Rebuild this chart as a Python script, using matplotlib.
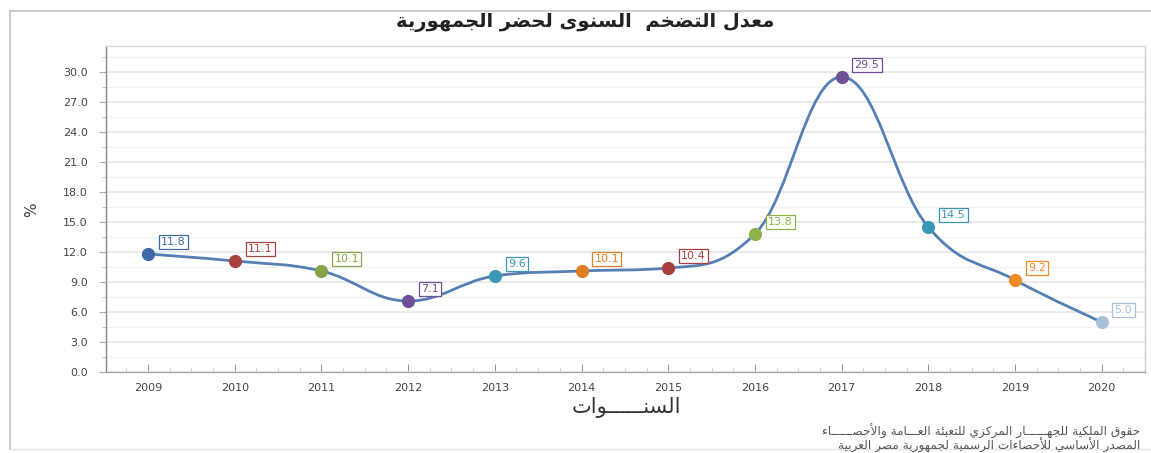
import matplotlib
matplotlib.use("Agg")
import matplotlib.pyplot as plt
from matplotlib.path import Path
from matplotlib.patches import PathPatch
from matplotlib.lines import Line2D
from matplotlib.ticker import MultipleLocator

# ---------------- data ----------------
years = [2009, 2010, 2011, 2012, 2013, 2014, 2015, 2016, 2017, 2018, 2019, 2020]
inflation = [11.8, 11.1, 10.1, 7.1, 9.6, 10.1, 10.4, 13.8, 29.5, 14.5, 9.2, 5.0]
point_colors = ["#3f6aa6", "#a9403d", "#87a548", "#6f4f98", "#3a98b6", "#e07f27",
                "#a83e3e", "#8db24a", "#6e4f98", "#3a96b8", "#f08a25", "#a9c1dd"]
title_text = "معدل التضخم  السنوى لحضر الجمهورية"
xlabel_text = "السنــــــوات"
ylabel_text = "%"
footer_lines = ["حقوق الملكية للجهــــــار المركزي للتعبئة العـــامة والأحصــــــاء",
                "المصدر الأساسي للأحصاءات الرسمية لجمهورية مصر العربية"]

# ---------------- minimal Arabic shaper ----------------
FOUR = {}
for ch, base in [('ئ', 0xFE89), ('ب', 0xFE8F), ('ت', 0xFE95), ('ث', 0xFE99), ('ج', 0xFE9D),
                 ('ح', 0xFEA1), ('خ', 0xFEA5), ('س', 0xFEB1), ('ش', 0xFEB5), ('ص', 0xFEB9),
                 ('ض', 0xFEBD), ('ط', 0xFEC1), ('ظ', 0xFEC5), ('ع', 0xFEC9), ('غ', 0xFECD),
                 ('ف', 0xFED1), ('ق', 0xFED5), ('ك', 0xFED9), ('ل', 0xFEDD), ('م', 0xFEE1),
                 ('ن', 0xFEE5), ('ه', 0xFEE9), ('ي', 0xFEF1)]:
    FOUR[ch] = base
TWO = {}
for ch, base in [('آ', 0xFE81), ('أ', 0xFE83), ('ؤ', 0xFE85), ('إ', 0xFE87), ('ا', 0xFE8D),
                 ('ة', 0xFE93), ('د', 0xFEA9), ('ذ', 0xFEAB), ('ر', 0xFEAD), ('ز', 0xFEAF),
                 ('و', 0xFEED), ('ى', 0xFEEF)]:
    TWO[ch] = base
LAMALEF = {'ا': 0xFEFB, 'أ': 0xFEF7, 'إ': 0xFEF9, 'آ': 0xFEF5}
TATWEEL = 'ـ'


def joins_next(c):
    return c in FOUR or c == TATWEEL


def is_letter(c):
    return c in FOUR or c in TWO or c == TATWEEL or c == 'ء'


def shape(text):
    out = []
    n = len(text)
    i = 0
    while i < n:
        c = text[i]
        prev = text[i - 1] if i > 0 else ' '
        conn_prev = joins_next(prev) and i > 0
        if c == 'ل' and i + 1 < n and text[i + 1] in LAMALEF:
            base = LAMALEF[text[i + 1]]
            out.append(chr(base + 1 if conn_prev else base))
            i += 2
            continue
        nxt = text[i + 1] if i + 1 < n else ' '
        conn_next = is_letter(nxt)
        if c in FOUR:
            b = FOUR[c]
            if conn_prev and conn_next:
                out.append(chr(b + 3))
            elif conn_prev:
                out.append(chr(b + 1))
            elif conn_next:
                out.append(chr(b + 2))
            else:
                out.append(chr(b))
        elif c in TWO:
            b = TWO[c]
            out.append(chr(b + 1 if conn_prev else b))
        elif c == 'ء':
            out.append(chr(0xFE80))
        else:
            out.append(c)
        i += 1
    return ''.join(reversed(out))


AR_FONT = ['DejaVu Sans']

# ---------------- figure ----------------
W, H = 1151, 453
fig = plt.figure(figsize=(W / 100, H / 100), dpi=100)
fig.patch.set_facecolor('white')

ax_l, ax_r, ax_t, ax_b = 106, 1145, 46, 372
ax = fig.add_axes([ax_l / W, 1 - ax_b / H, (ax_r - ax_l) / W, (ax_b - ax_t) / H])

ax.set_xlim(2008.515, 2020.5)
ax.set_ylim(0, 32.6)

# grid
ax.yaxis.set_major_locator(MultipleLocator(3))
ax.yaxis.set_minor_locator(MultipleLocator(1.5))
ax.grid(axis='y', which='major', color='#e6e6e6', linewidth=1.2, zorder=0)
ax.grid(axis='y', which='minor', color='#f3f3f3', linewidth=1.0, zorder=0)
ax.set_axisbelow(True)

ax.set_xticks(years)
ax.set_xticklabels([str(y) for y in years])
ax.xaxis.set_minor_locator(MultipleLocator(0.25))
ax.set_yticks([3 * k for k in range(11)])
ax.set_yticklabels([f"{3 * k:.1f}" for k in range(11)])

ax.tick_params(axis='x', which='major', direction='in', length=6, color='#999999',
               labelsize=8, labelcolor='#444444', pad=8)
ax.tick_params(axis='x', which='minor', direction='in', length=3, color='#bbbbbb')
ax.tick_params(axis='y', which='major', direction='out', length=5, color='#aaaaaa',
               labelsize=8, labelcolor='#444444', pad=8)
ax.tick_params(axis='y', which='minor', direction='out', length=3, color='#bbbbbb')
for lab in ax.get_xticklabels() + ax.get_yticklabels():
    lab.set_fontfamily('DejaVu Sans')

ax.spines['left'].set_color('#888888')
ax.spines['bottom'].set_color('#aaaaaa')
ax.spines['top'].set_color('#dddddd')
ax.spines['right'].set_color('#cccccc')
for s in ax.spines.values():
    s.set_linewidth(1.0)

# ---------------- spline (Highcharts style) ----------------
smoothing = 1.5
denom = smoothing + 1
n = len(years)
lc = [None] * n
rc = [None] * n
for i in range(1, n - 1):
    px, py = years[i], inflation[i]
    lx, ly = years[i - 1], inflation[i - 1]
    nx, ny = years[i + 1], inflation[i + 1]
    lcx = (smoothing * px + lx) / denom
    lcy = (smoothing * py + ly) / denom
    rcx = (smoothing * px + nx) / denom
    rcy = (smoothing * py + ny) / denom
    corr = 0.0
    if rcx != lcx:
        corr = ((rcy - lcy) * (rcx - px)) / (rcx - lcx) + py - rcy
    lcy += corr
    rcy += corr
    if lcy > ly and lcy > py:
        lcy = max(ly, py)
        rcy = 2 * py - lcy
    elif lcy < ly and lcy < py:
        lcy = min(ly, py)
        rcy = 2 * py - lcy
    if rcy > ny and rcy > py:
        rcy = max(ny, py)
        lcy = 2 * py - rcy
    elif rcy < ny and rcy < py:
        rcy = min(ny, py)
        lcy = 2 * py - rcy
    lc[i] = (lcx, lcy)
    rc[i] = (rcx, rcy)

verts = [(years[0], inflation[0])]
codes = [Path.MOVETO]
for i in range(1, n):
    c1 = rc[i - 1] if rc[i - 1] is not None else (years[i - 1], inflation[i - 1])
    c2 = lc[i] if lc[i] is not None else (years[i], inflation[i])
    verts += [c1, c2, (years[i], inflation[i])]
    codes += [Path.CURVE4, Path.CURVE4, Path.CURVE4]
ax.add_patch(PathPatch(Path(verts, codes), facecolor='none', edgecolor='#5580b5',
                       linewidth=2.0, zorder=3, capstyle='round', joinstyle='round'))

# markers and labels
for x, y, c in zip(years, inflation, point_colors):
    ax.plot([x], [y], marker='o', markersize=9.5, color=c, markeredgewidth=0, zorder=4,
            linestyle='none')
    ax.annotate(f"{y:.1f}", xy=(x, y), xytext=(13, 7), textcoords='offset pixels',
                ha='left', va='bottom', fontsize=8, color=c, family='DejaVu Sans',
                bbox=dict(boxstyle='square,pad=0.2', facecolor='white', edgecolor=c,
                          linewidth=0.9), zorder=5)

# texts
fig.text(585 / W, 1 - 23 / H, shape(title_text), ha='center', va='center',
         fontsize=14, fontweight='bold', family=AR_FONT, color='#222222')
fig.text(626 / W, 1 - 408 / H, shape(xlabel_text), ha='center', va='center',
         fontsize=15, family=AR_FONT, color='#333333')
fig.text(32 / W, 1 - 210 / H, ylabel_text, ha='center', va='center', rotation=90,
         fontsize=11, family='DejaVu Sans', color='#444444')
fig.text(1140 / W, 1 - 431 / H, shape(footer_lines[0]), ha='right', va='center',
         fontsize=8.7, family=AR_FONT, color='#555555')
fig.text(1140 / W, 1 - 445 / H, shape(footer_lines[1]), ha='right', va='center',
         fontsize=8.7, family=AR_FONT, color='#555555')

# outer frame
frame_col = '#c4c4c4'
fig.add_artist(Line2D([10 / W, 10 / W], [1 - 449 / H, 1 - 11 / H], transform=fig.transFigure,
                      color=frame_col, linewidth=1.2))
fig.add_artist(Line2D([10 / W, 1], [1 - 11 / H, 1 - 11 / H], transform=fig.transFigure,
                      color=frame_col, linewidth=1.2))
fig.add_artist(Line2D([10 / W, 1], [1 - 449 / H, 1 - 449 / H], transform=fig.transFigure,
                      color='#e4e4e4', linewidth=1.0))

fig.savefig('out.png', dpi=100, facecolor='white')
